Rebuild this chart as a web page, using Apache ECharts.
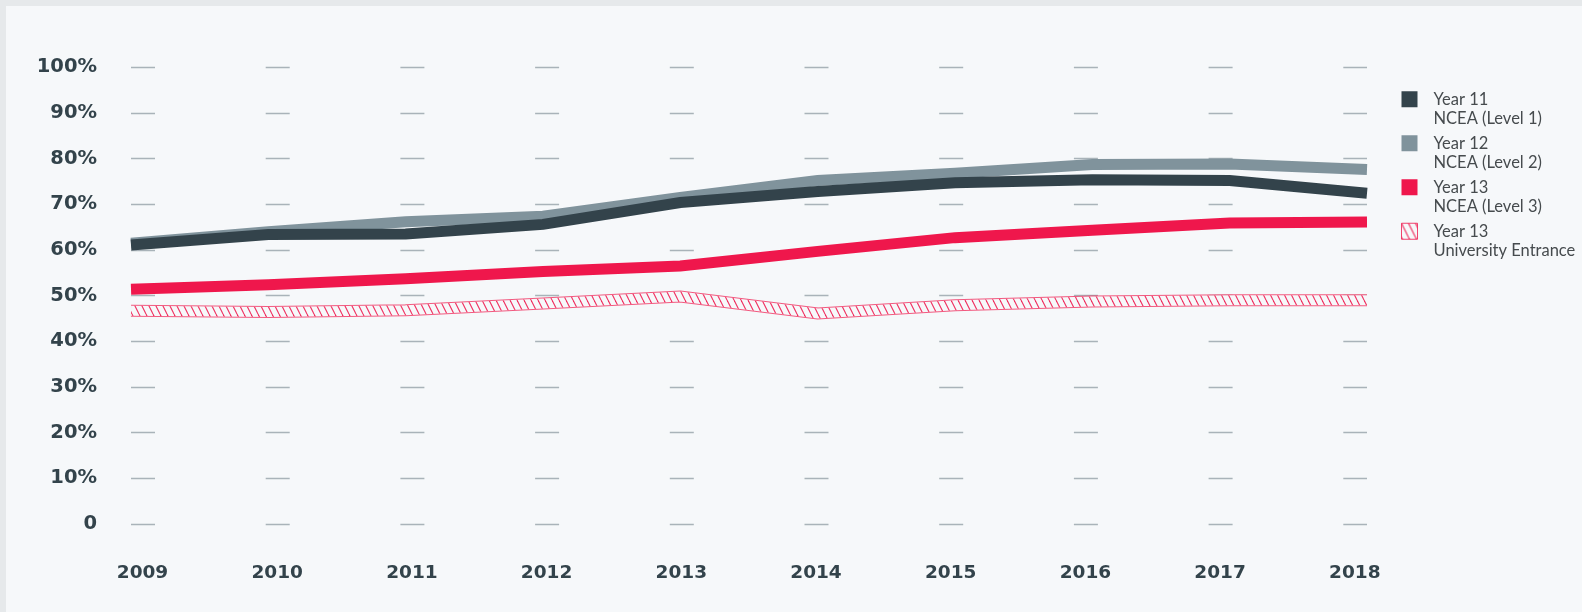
<!DOCTYPE html>
<html><head><meta charset="utf-8">
<script src="https://cdn.jsdelivr.net/npm/echarts@6/dist/echarts.min.js"></script>
<style>
html,body{margin:0;padding:0;background:#e6e9eb;width:1582px;height:612px;overflow:hidden;}
#c{position:absolute;left:6px;top:6px;width:1576px;height:606px;background:#f6f8fa;}
</style></head><body><div id="c"></div>
<script>
const categories = ['2009','2010','2011','2012','2013','2014','2015','2016','2017','2018'];
const seriesNames = ['Year 11\nNCEA (Level 1)','Year 12\nNCEA (Level 2)','Year 13\nNCEA (Level 3)','Year 13\nUniversity Entrance'];
const year11 = [61.1, 63.4, 63.5, 65.6, 70.4, 72.8, 74.7, 75.4, 75.2, 72.4];
const year12 = [61.5, 64.0, 66.2, 67.4, 71.5, 75.2, 76.8, 78.7, 78.8, 77.6];
const year13 = [51.4, 52.4, 53.7, 55.3, 56.5, 59.7, 62.7, 64.3, 65.9, 66.1];
const year13UE = [46.7, 46.4, 46.8, 48.3, 49.8, 46.1, 47.9, 48.7, 49.0, 49.0];

const DARK = '#33434b', GREY = '#80939c', RED = '#ef174c', BG = '#f6f8fa';

function hatch() {
  const c = document.createElement('canvas');
  c.width = 7; c.height = 14;
  const g = c.getContext('2d');
  g.strokeStyle = 'rgba(239,23,76,0.9)';
  g.lineWidth = 1.1;
  for (const x0 of [-7, 0, 7]) {
    g.beginPath(); g.moveTo(x0, 0); g.lineTo(x0 + 7, 14); g.stroke();
  }
  return c;
}
const hatchImg = hatch();

const chart = echarts.init(document.getElementById('c'), null, {renderer: 'canvas'});
const common = {type: 'line', xAxisIndex: 0, yAxisIndex: 0, symbol: 'none', silent: true, z: 2};
const labelFont = {fontFamily: 'DejaVu Sans', fontWeight: 'bold', color: DARK};

chart.setOption({
  animation: false,
  grid: [
    {left: 125, top: 61.3, width: 1236, height: 456.7},
    {left: 136.5, top: 61.3, width: 1212.3, height: 456.7}
  ],
  xAxis: [
    {type: 'category', gridIndex: 0, data: categories, boundaryGap: false,
     axisLine: {show: false}, axisTick: {show: false}, axisLabel: {show: false}, splitLine: {show: false}},
    {type: 'category', gridIndex: 1, data: categories, boundaryGap: false,
     axisLine: {show: false}, axisTick: {show: false}, splitLine: {show: false},
     axisLabel: Object.assign({fontSize: 18.5, margin: 40, interval: 0}, labelFont)}
  ],
  yAxis: [
    {type: 'value', gridIndex: 0, min: 0, max: 100, interval: 10,
     axisLine: {show: false}, axisTick: {show: false},
     axisLabel: Object.assign({fontSize: 19.5, margin: 34, formatter: v => v === 0 ? '0' : v + '%'}, labelFont),
     splitLine: {show: true, lineStyle: {color: '#a9b3b9', width: 1.3, type: [24, 110.7], dashOffset: 0}}},
    {type: 'value', gridIndex: 1, min: 0, max: 100, interval: 10, show: false, splitLine: {show: false}}
  ],
  legend: {
    orient: 'vertical', left: 1395, top: 64, padding: 0,
    itemWidth: 16, itemHeight: 16, itemGap: -14.5, icon: 'rect', selectedMode: false,
    itemStyle: {borderWidth: 0},
    formatter: name => '\n' + name,
    textStyle: {fontFamily: 'Lato', fontSize: 16.5, color: '#464b4e', lineHeight: 19.5, padding: [0, 0, 0, 11]},
    data: [
      {name: seriesNames[0], itemStyle: {color: DARK, borderWidth: 0}},
      {name: seriesNames[1], itemStyle: {color: GREY, borderWidth: 0}},
      {name: seriesNames[2], itemStyle: {color: RED, borderWidth: 0}},
      {name: seriesNames[3], itemStyle: {color: {image: hatchImg, repeat: 'repeat'}, borderColor: 'rgba(239,23,76,0.8)', borderWidth: 1}}
    ]
  },
  series: [
    Object.assign({}, common, {name: seriesNames[1], data: year12, color: GREY, lineStyle: {color: GREY, width: 11, join: 'miter'}}),
    Object.assign({}, common, {name: seriesNames[0], data: year11, color: DARK, lineStyle: {color: DARK, width: 11, join: 'miter'}}),
    Object.assign({}, common, {name: seriesNames[2], data: year13, color: RED, lineStyle: {color: RED, width: 11, join: 'miter'}}),
    Object.assign({}, common, {name: seriesNames[3], data: year13UE, color: RED, lineStyle: {color: 'rgba(239,23,76,0.7)', width: 12, join: 'miter'}}),
    Object.assign({}, common, {name: seriesNames[3], data: year13UE, color: RED, lineStyle: {color: BG, width: 10, join: 'miter'}}),
    Object.assign({}, common, {name: seriesNames[3], data: year13UE, color: RED, lineStyle: {color: {image: hatchImg, repeat: 'repeat'}, width: 10, join: 'miter'}})
  ]
});
</script></body></html>
